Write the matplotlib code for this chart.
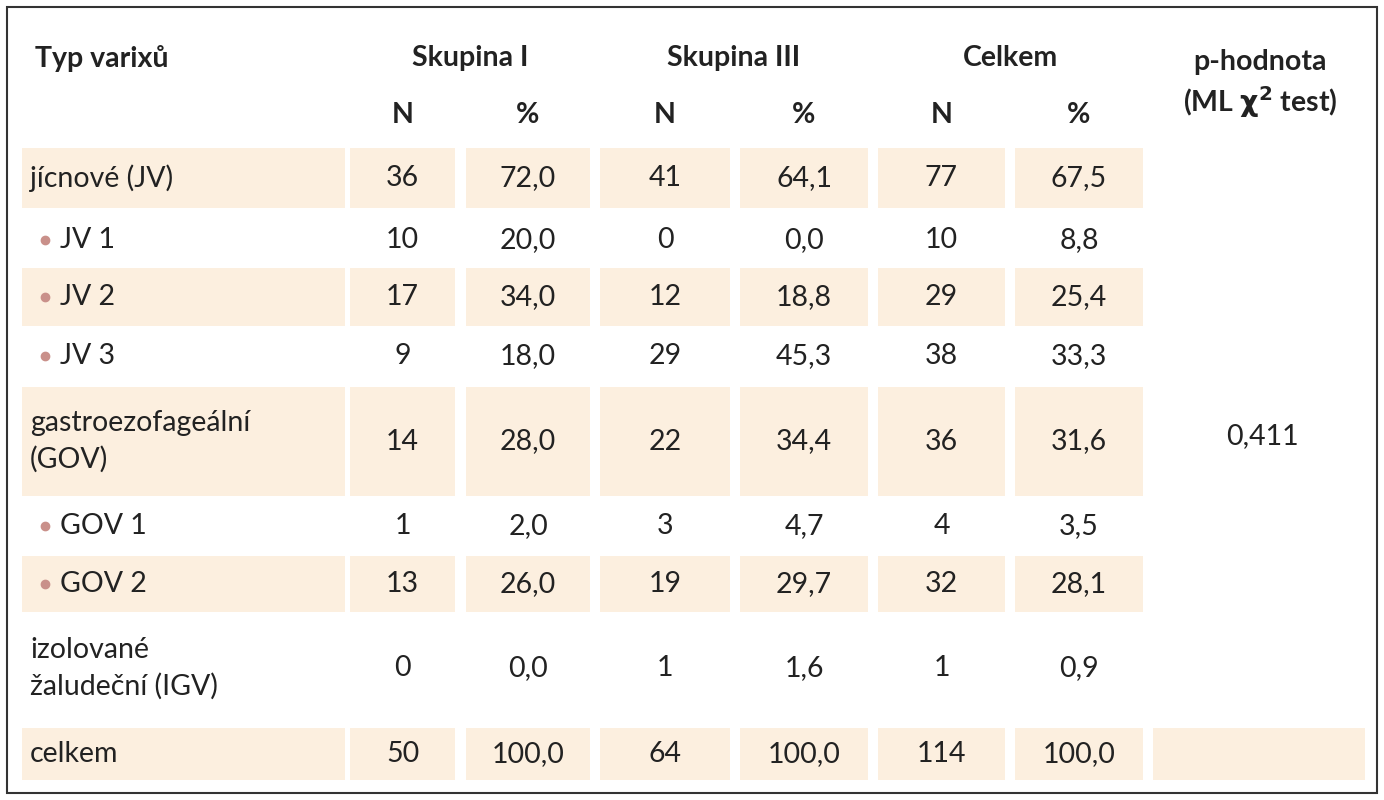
import matplotlib
matplotlib.use("Agg")
import matplotlib.pyplot as plt
from matplotlib.patches import Rectangle

labels = ["jícnové (JV)", "JV 1", "JV 2", "JV 3", "gastroezofageální\n(GOV)", "GOV 1", "GOV 2",
          "izolované\nžaludeční (IGV)", "celkem"]
bullet = [False, True, True, True, False, True, True, False, False]
shaded = [True, False, True, False, True, False, True, False, True]
n1 = ["36", "10", "17", "9", "14", "1", "13", "0", "50"]
p1 = ["72,0", "20,0", "34,0", "18,0", "28,0", "2,0", "26,0", "0,0", "100,0"]
n2 = ["41", "0", "12", "29", "22", "3", "19", "1", "64"]
p2 = ["64,1", "0,0", "18,8", "45,3", "34,4", "4,7", "29,7", "1,6", "100,0"]
n3 = ["77", "10", "29", "38", "36", "4", "32", "1", "114"]
p3 = ["67,5", "8,8", "25,4", "33,3", "31,6", "3,5", "28,1", "0,9", "100,0"]
pval = "0,411"

W, H = 1384, 800
fig = plt.figure(figsize=(W/100, H/100), dpi=100)
ax = fig.add_axes([0, 0, 1, 1])
ax.set_xlim(0, W); ax.set_ylim(H, 0); ax.axis("off")
plt.rcParams['font.family'] = ['Lato', 'DejaVu Sans']
fs = 20.5
tc = "#222222"
shade = "#fcefdf"
bulletc = "#c9908a"

ax.add_patch(Rectangle((7, 7), 1370, 786, fill=False, ec="#333333", lw=1.5))

cols = [(22, 345), (350, 455), (466, 590), (600, 730), (740, 868), (878, 1005), (1015, 1143), (1153, 1365)]
rows = [(148, 208), (212, 268), (268, 326), (328, 384), (387, 496), (498, 554), (556, 612), (615, 722), (728, 780)]
ymid = [(a + b) / 2 for a, b in rows]

ax.text(35, 58, "Typ varixů", fontsize=fs, fontweight="bold", color=tc, va="center")
for (a, b), t in zip([cols[1:3], cols[3:5], cols[5:7]], ["Skupina I", "Skupina III", "Celkem"]):
    ax.text((a[0] + b[1]) / 2, 58, t, fontsize=fs, fontweight="bold", color=tc, va="center", ha="center")
for c, t in zip(cols[1:7], ["N", "%"] * 3):
    ax.text((c[0] + c[1]) / 2, 115, t, fontsize=fs, fontweight="bold", color=tc, va="center", ha="center")
ax.text(1260, 62, "p-hodnota", fontsize=fs, fontweight="bold", color=tc, va="center", ha="center")
ax.text(1260, 102, "(ML $\\mathbf{\\chi^2}$ test)", fontsize=fs, fontweight="bold", color=tc, va="center", ha="center")

for i, lab in enumerate(labels):
    y0, y1 = rows[i]
    if shaded[i]:
        for j, (a, b) in enumerate(cols):
            if j == 7 and i != len(labels) - 1:
                continue
            ax.add_patch(Rectangle((a, y0), b - a, y1 - y0, color=shade, lw=0))
    ym = ymid[i]
    if bullet[i]:
        ax.plot(45, ym, "o", color=bulletc, ms=6)
        ax.text(60, ym, lab, fontsize=fs, color=tc, va="center")
    else:
        ax.text(30, ym, lab, fontsize=fs, color=tc, va="center", linespacing=1.45)
    for j, vals in enumerate([n1, p1, n2, p2, n3, p3]):
        a, b = cols[j + 1]
        ax.text((a + b) / 2, ym, vals[i], fontsize=fs, color=tc, va="center", ha="center")

ax.text(1262, ymid[4] - 5, pval, fontsize=fs, color=tc, va="center", ha="center")
fig.savefig("out.png", dpi=100, facecolor="white")
